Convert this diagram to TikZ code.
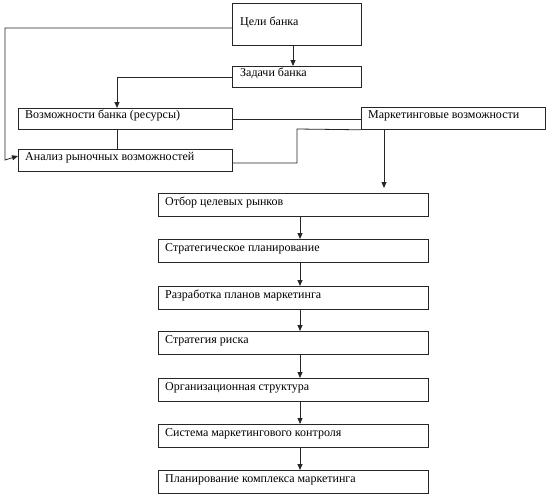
\documentclass[tikz,border=0pt]{standalone}
\usepackage{fontspec}
\setmainfont{Liberation Serif}
\usetikzlibrary{arrows.meta,calc}
\begin{document}
\begin{tikzpicture}[x=1pt,y=-1pt,
  box/.style={draw=black!85,line width=0.8pt,anchor=north west,inner sep=0pt},
  txt/.style={anchor=base west,inner sep=0pt,font=\fontsize{12}{14}\selectfont},
  conn/.style={draw=black!85,line width=0.8pt},
  arr/.style={conn,-{Triangle[length=6pt,width=5pt]}}]
\useasboundingbox (0,0) rectangle (555,498);
% top boxes
\node[box,minimum width=129pt,minimum height=42pt] (celi) at (232,3) {};
\node[txt] (celit) at (240,25) {Цели банка};
\node[box,minimum width=129pt,minimum height=21pt] (zad) at (232,66) {};
\node[txt] (zadt) at (240,76) {Задачи банка};
\node[box,minimum width=214pt,minimum height=21pt] (voz) at (18,108) {};
\node[txt] (vozt) at (25,118) {Возможности банка (ресурсы)};
\node[box,minimum width=214pt,minimum height=22pt] (anal) at (18,149) {};
\node[txt] (analt) at (25,160) {Анализ рыночных возможностей};
\node[box,minimum width=184pt,minimum height=22pt] (mark) at (361,107) {};
\node[txt] (markt) at (368,118) {Маркетинговые возможности};
% chain
\foreach \n/\y/\t in {b1/193/Отбор целевых рынков,
  b2/239/Стратегическое планирование,
  b3/286/Разработка планов маркетинга,
  b4/331/Стратегия риска,
  b5/378/Организационная структура,
  b6/424/Система маркетингового контроля,
  b7/470/Планирование комплекса маркетинга}{
  \node[box,minimum width=270pt,minimum height=23pt] (\n) at (158,\y) {};
  \node[txt] (\n t) at ($(\n.north west)+(7,12)$) {\t};
}
\foreach \a/\b in {b1/b2,b2/b3,b3/b4,b4/b5,b5/b6,b6/b7}{
  \draw[arr] ($(\a.south west)+(142,0)$) -- ($(\b.north west)+(142,0)$);
}
% connectors
\coordinate (bend) at (297,129);
\draw[arr] ($(celi.south west)+(61,0)$) -- ($(zad.north west)+(61,0)$);
\draw[arr] ($(celi.north west)+(0,25)$) -| (5,160) -- ($(anal.north west)+(0,7)$);
\draw[arr] ($(zad.north west)+(0,11)$) -| ($(voz.north west)+(99,0)$);
\draw[conn] ($(voz.north east)+(0,11)$) -- ($(mark.north west)+(0,12)$);
\draw[conn] ($(voz.south west)+(99,0)$) -- ($(anal.north west)+(99,0)$);
\draw[conn] ($(anal.north east)+(0,14)$) -| (bend) -- (mark.south west);
\draw[arr] ($(mark.south west)+(23,0)$) -- ($(b1.north west)+(226,-5)$);
\end{tikzpicture}
\end{document}
